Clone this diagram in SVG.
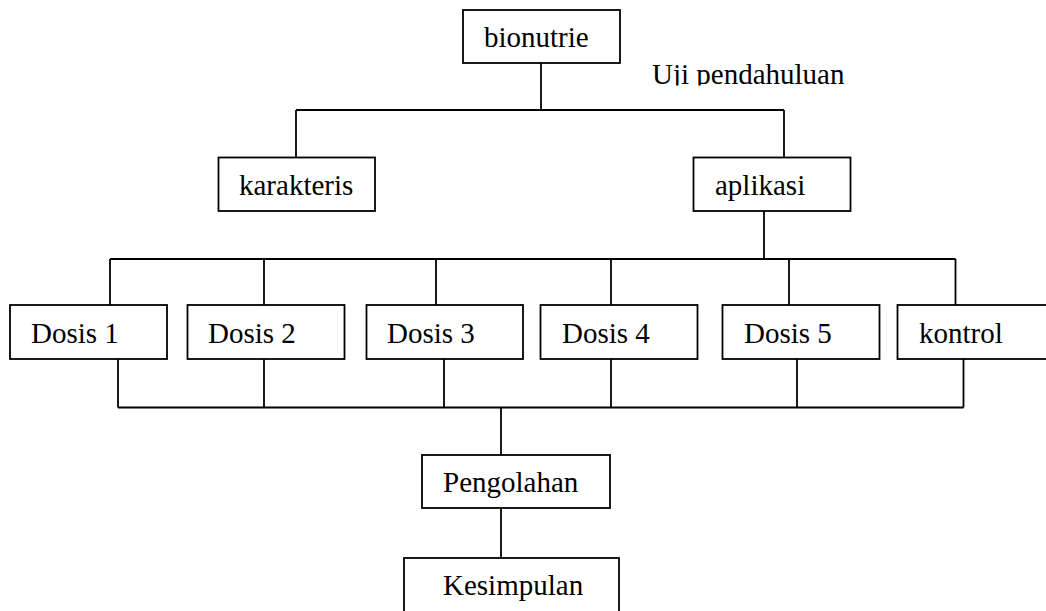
<svg xmlns="http://www.w3.org/2000/svg" width="1046" height="611" viewBox="0 0 1046 611">
<style>
.box{fill:#fff;stroke:#000;stroke-width:1.8}
.lbl{font-family:"Liberation Serif","Times New Roman",serif;font-size:29px;fill:#000}
.conn line{stroke:#000;stroke-width:1.8;fill:none}
</style>
<defs>
<clipPath id="clipUji"><rect x="600" y="50" width="300" height="35.5"/></clipPath>
</defs>
<rect width="1046" height="611" fill="#fff"/>
<g class="conn" id="connectors">
<line x1="541" y1="63" x2="541" y2="110"/>
<line x1="296" y1="110" x2="784" y2="110"/>
<line x1="296" y1="110" x2="296" y2="157.5"/>
<line x1="784" y1="110" x2="784" y2="157.5"/>
<line x1="764" y1="211" x2="764" y2="259"/>
<line x1="110" y1="259" x2="955.5" y2="259"/>
<line x1="110" y1="259" x2="110" y2="305"/>
<line x1="264" y1="259" x2="264" y2="305"/>
<line x1="436" y1="259" x2="436" y2="305"/>
<line x1="611" y1="259" x2="611" y2="305"/>
<line x1="789" y1="259" x2="789" y2="305"/>
<line x1="955.5" y1="259" x2="955.5" y2="305"/>
<line x1="118" y1="359" x2="118" y2="407.5"/>
<line x1="264" y1="359" x2="264" y2="407.5"/>
<line x1="444" y1="359" x2="444" y2="407.5"/>
<line x1="611" y1="359" x2="611" y2="407.5"/>
<line x1="797" y1="359" x2="797" y2="407.5"/>
<line x1="963.5" y1="359" x2="963.5" y2="407.5"/>
<line x1="118" y1="407.5" x2="963.5" y2="407.5"/>
<line x1="501" y1="407.5" x2="501" y2="455"/>
<line x1="501" y1="508" x2="501" y2="558"/>
</g>
<g id="bionutrie"><rect class="box" x="463" y="10" width="157" height="53"/><text class="lbl" x="484" y="47">bionutrie</text></g>
<g id="uji"><text class="lbl" x="652" y="84" clip-path="url(#clipUji)">Uji pendahuluan</text></g>
<g id="karakteris"><rect class="box" x="218.5" y="157.5" width="156.5" height="53.5"/><text class="lbl" x="239" y="195">karakteris</text></g>
<g id="aplikasi"><rect class="box" x="693.5" y="157.5" width="157" height="53.5"/><text class="lbl" x="715" y="195">aplikasi</text></g>
<g id="dosis1"><rect class="box" x="10" y="305" width="157" height="54"/><text class="lbl" x="31" y="343">Dosis 1</text></g>
<g id="dosis2"><rect class="box" x="187.5" y="305" width="157" height="54"/><text class="lbl" x="208" y="343">Dosis 2</text></g>
<g id="dosis3"><rect class="box" x="366.5" y="305" width="156.5" height="54"/><text class="lbl" x="387" y="343">Dosis 3</text></g>
<g id="dosis4"><rect class="box" x="540.5" y="305" width="157" height="54"/><text class="lbl" x="562" y="343">Dosis 4</text></g>
<g id="dosis5"><rect class="box" x="722.5" y="305" width="157" height="54"/><text class="lbl" x="744" y="343">Dosis 5</text></g>
<g id="kontrol"><rect class="box" x="897.5" y="305" width="160" height="54"/><text class="lbl" x="919" y="343">kontrol</text></g>
<g id="pengolahan"><rect class="box" x="422" y="455" width="188" height="53"/><text class="lbl" x="443" y="492">Pengolahan</text></g>
<g id="kesimpulan"><rect class="box" x="404" y="558" width="215" height="60"/><text class="lbl" x="443" y="595">Kesimpulan</text></g>
</svg>
